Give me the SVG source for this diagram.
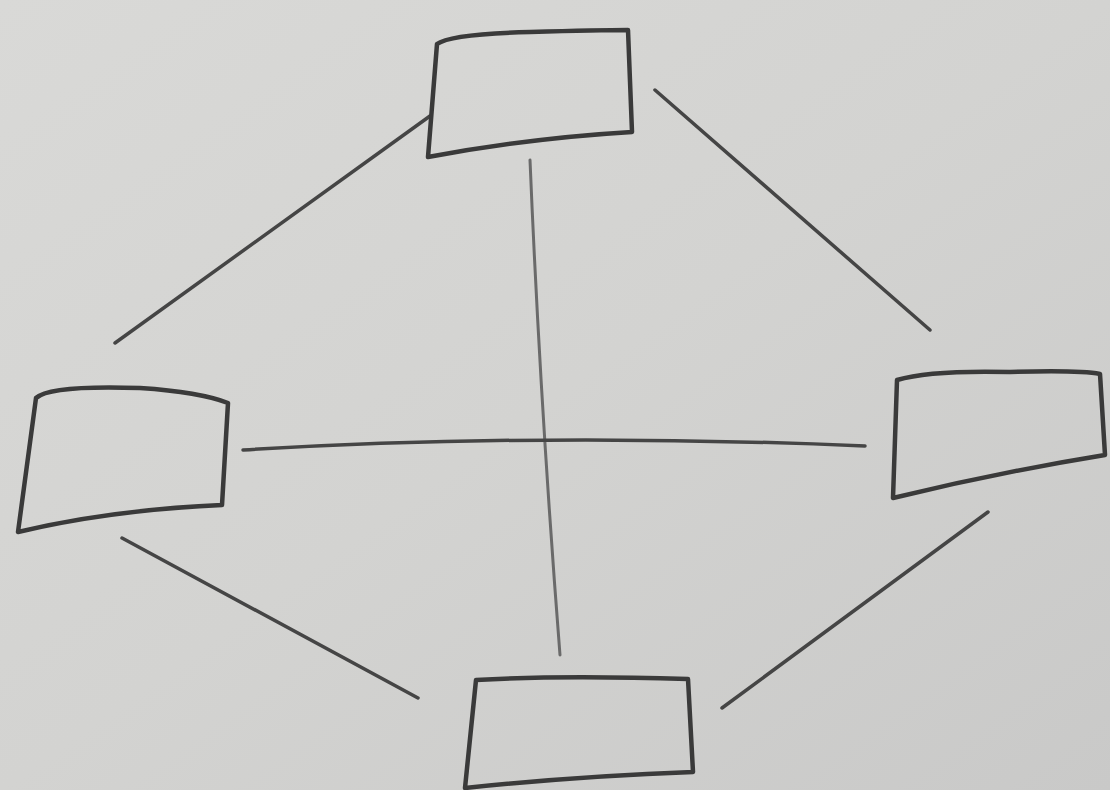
<svg xmlns="http://www.w3.org/2000/svg" width="1110" height="790" viewBox="0 0 1110 790">
<defs>
<linearGradient id="bg" x1="0" y1="0" x2="1" y2="1">
<stop offset="0" stop-color="#d9d9d7"/>
<stop offset="0.5" stop-color="#d3d3d1"/>
<stop offset="1" stop-color="#c9c9c8"/>
</linearGradient>
<style>
.box{fill:none;stroke:#3a3a3a;stroke-width:4.5;stroke-linejoin:round;stroke-linecap:round}
.edge{fill:none;stroke:#454545;stroke-width:3.5;stroke-linecap:round}
.faint{stroke:#6a6a6a;stroke-width:3}
</style>
</defs>
<rect width="1110" height="790" fill="url(#bg)"/>
<g id="connectors">
<path class="edge" d="M430,116 L115,343"/>
<path class="edge" d="M655,90 L930,330"/>
<path class="edge faint" d="M530,160 Q540,400 560,655"/>
<path class="edge" d="M243,450 Q540,432 865,446"/>
<path class="edge" d="M122,538 L418,698"/>
<path class="edge" d="M988,512 L722,708"/>
</g>
<g id="node-top">
<path class="box" d="M437,44 Q450,34 530,32 Q600,30 628,30 L632,132 Q530,138 428,157 L437,44 Z"/>
</g>
<g id="node-left">
<path class="box" d="M36,398 Q50,385 140,388 Q200,392 228,403 L222,505 Q110,510 18,532 L36,398 Z"/>
</g>
<g id="node-right">
<path class="box" d="M897,380 Q930,370 1010,372 Q1080,370 1100,374 L1105,455 Q1000,472 893,498 L897,380 Z"/>
</g>
<g id="node-bottom">
<path class="box" d="M476,680 Q560,675 688,679 L693,772 Q580,776 465,788 L476,680 Z"/>
</g>
</svg>
